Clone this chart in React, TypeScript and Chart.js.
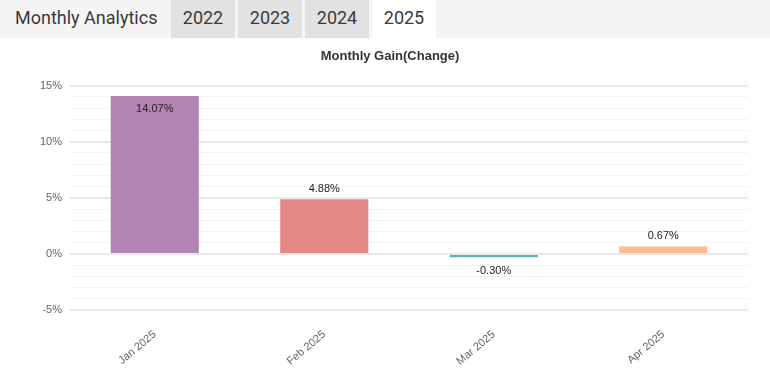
import React, { useEffect, useRef } from "react";
import { Chart, registerables } from "chart.js";

Chart.register(...registerables);

const categories = ["Jan 2025", "Feb 2025", "Mar 2025", "Apr 2025"];
const gains = [14.07, 4.88, -0.3, 0.67];
const barColors = ["#b384b3", "#e48886", "#5fb3b3", "#fbbd90"];
const years = ["2022", "2023", "2024", "2025"];
const activeYear = "2025";
const yMin = -5;
const yMax = 15;

const valueLabels = {
  id: "valueLabels",
  afterDatasetsDraw(chart: any) {
    const ctx = chart.ctx;
    const meta = chart.getDatasetMeta(0);
    const area = chart.chartArea;
    ctx.save();
    ctx.font = "11px 'Liberation Sans', Arial, sans-serif";
    ctx.fillStyle = "#222";
    ctx.textAlign = "center";
    ctx.textBaseline = "middle";
    meta.data.forEach((bar: any, i: number) => {
      const v = gains[i];
      const txt = v.toFixed(2) + "%";
      let y: number;
      if (v >= 0) {
        y = bar.y - 10;
        if (y < area.top + 8) y = bar.y + 13;
      } else {
        y = bar.y + 14;
      }
      ctx.fillText(txt, bar.x, y);
    });
    ctx.restore();
  },
};

export default function App() {
  const ref = useRef<HTMLCanvasElement | null>(null);
  useEffect(() => {
    document.body.style.margin = "0";
    if (!ref.current) return;
    const chart = new Chart(ref.current, {
      type: "bar",
      data: {
        labels: categories,
        datasets: [
          {
            data: gains,
            backgroundColor: barColors,
            borderWidth: 0,
            barPercentage: 0.52,
            categoryPercentage: 1,
          },
        ],
      },
      options: {
        animation: false,
        responsive: false,
        layout: { padding: { left: 32, right: 22, top: 7, bottom: 9 } },
        plugins: {
          legend: { display: false },
          tooltip: { enabled: false },
          title: {
            display: true,
            text: "Monthly Gain(Change)",
            color: "#333",
            font: { family: "'Liberation Sans', Arial, sans-serif", size: 13, weight: "bold" },
            padding: { top: 4, bottom: 21 },
          },
        },
        scales: {
          x: {
            grid: { display: false },
            border: { display: false },
            ticks: {
              color: "#666",
              font: { family: "'Liberation Sans', Arial, sans-serif", size: 11 },
              maxRotation: 40,
              minRotation: 40,
              padding: 10,
            },
          },
          y: {
            min: yMin,
            max: yMax,
            border: { display: false },
            grid: {
              drawTicks: false,
              color: (c: any) => (c.tick && c.tick.value % 5 === 0 ? "#e8e8e8" : "#f3f3f3"),
              lineWidth: (c: any) => (c.tick && c.tick.value % 5 === 0 ? 2 : 1),
            },
            ticks: {
              stepSize: 1,
              autoSkip: false,
              color: "#666",
              padding: 8,
              font: { family: "'Liberation Sans', Arial, sans-serif", size: 11 },
              callback: (v: any) => (Number(v) % 5 === 0 ? v + "%" : ""),
            },
          },
        },
      },
      plugins: [valueLabels],
    });
    return () => chart.destroy();
  }, []);

  return (
    <div style={{ position: "relative", width: 770, height: 387, background: "#fff", overflow: "hidden" }}>
      <div
        style={{
          position: "absolute",
          left: 0,
          top: 0,
          width: 770,
          height: 38,
          background: "#f5f5f5",
          fontFamily: "Roboto, sans-serif",
          fontSize: 18,
          color: "#3a3a3a",
        }}
      >
        <div style={{ position: "absolute", left: 15, top: 0, height: 38, lineHeight: "36px" }}>Monthly Analytics</div>
        {years.map((y, i) => (
          <div
            key={y}
            style={{
              position: "absolute",
              left: 171 + i * 67,
              top: 0,
              width: 64,
              height: 38,
              lineHeight: "36px",
              textAlign: "center",
              background: y === activeYear ? "#fff" : "#e2e2e2",
            }}
          >
            {y}
          </div>
        ))}
      </div>
      <canvas ref={ref} width={770} height={349} style={{ position: "absolute", left: 0, top: 38 }} />
    </div>
  );
}
